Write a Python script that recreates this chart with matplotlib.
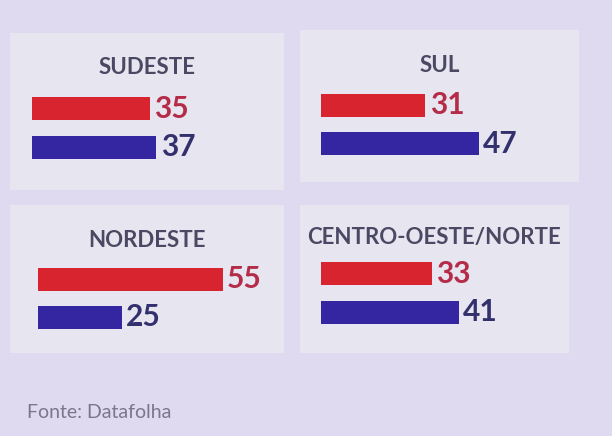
import matplotlib
matplotlib.use("Agg")
import matplotlib.pyplot as plt

# data
regions = ["SUDESTE", "SUL", "NORDESTE", "CENTRO-OESTE/NORTE"]
red_values = [35, 31, 55, 33]
blue_values = [37, 47, 25, 41]
source = "Fonte: Datafolha"

W, H = 612, 436
BG = "#dfdaef"
PANEL = "#e7e5f0"
RED = "#d8242e"
BLUE = "#3426a0"
RED_TXT = "#b52c48"
BLUE_TXT = "#33306e"
TITLE_TXT = "#4a4862"

# panel layout in pixels: box (x0, y0, x1, y1), bar start x, red bar centre y, title y
layout = [
    ((10, 33, 284, 190), 32, 109, 68),
    ((300, 30, 579, 182), 321, 105, 65),
    ((10, 205, 284, 353), 38, 279, 240),
    ((300, 205, 569, 353), 321, 273.5, 237),
]
px_per_unit = 3.36
row_gap = 38.5
bar_px = 23

plt.rcParams['font.family'] = ['Lato', 'DejaVu Sans']
fig = plt.figure(figsize=(W / 100, H / 100), dpi=100)
fig.patch.set_facecolor(BG)

for name, rv, bv, (box, bx, ry, ty) in zip(regions, red_values, blue_values, layout):
    x0, y0, x1, y1 = box
    ax = fig.add_axes([x0 / W, 1 - y1 / H, (x1 - x0) / W, (y1 - y0) / H])
    ax.set_facecolor(PANEL)
    for s in ax.spines.values():
        s.set_visible(False)
    ax.set_xticks([])
    ax.set_yticks([])

    ax.set_xlim(-(bx - x0) / px_per_unit, (x1 - bx) / px_per_unit)
    ax.set_ylim((y1 - ry) / row_gap, -(ry - y0) / row_gap)

    h = bar_px / row_gap
    ax.barh([0], [rv], height=h, color=RED)
    ax.barh([1], [bv], height=h, color=BLUE)
    ax.text(rv + 1.3, 0, str(rv), color=RED_TXT, fontsize=21.5, fontweight='bold',
            ha='left', va='center')
    ax.text(bv + 1.3, 1, str(bv), color=BLUE_TXT, fontsize=21.5, fontweight='bold',
            ha='left', va='center')

    ax.text(0.5, 1 - (ty - y0) / (y1 - y0), name, transform=ax.transAxes,
            color=TITLE_TXT, fontsize=16, fontweight='bold', ha='center', va='center')

fig.text(27 / W, 1 - 412 / H, source, color="#7a768c", fontsize=14,
         ha='left', va='center')

fig.savefig("out.png", dpi=100, facecolor=BG)
